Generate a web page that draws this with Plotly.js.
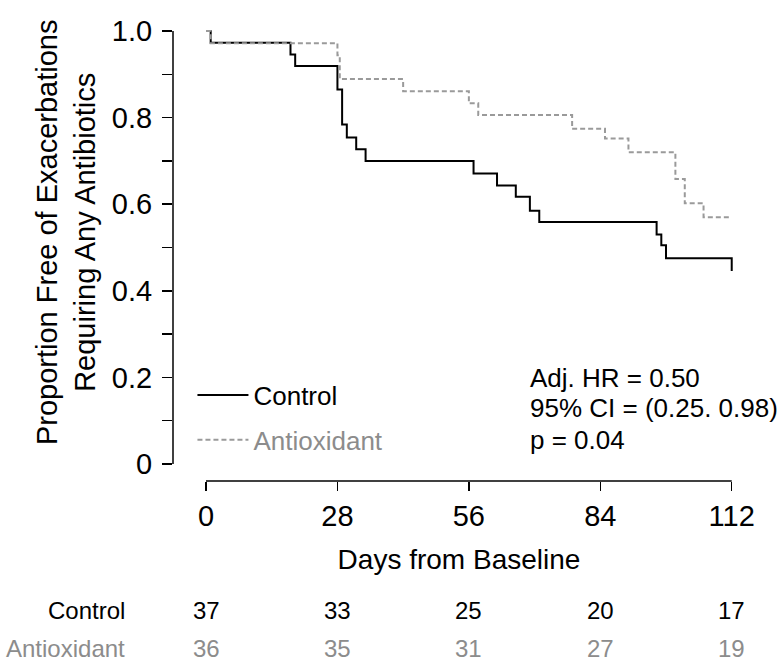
<!DOCTYPE html>
<html>
<head>
<meta charset="utf-8">
<script src="https://cdn.plot.ly/plotly-3.0.1.min.js"></script>
<style>
  html, body { margin: 0; padding: 0; background: #ffffff; }
  #km { width: 780px; height: 664px; }
</style>
</head>
<body>
<div id="km"></div>
<script>
/* ==========================================
   DATA
========================================== */

const controlDays = [0, 1, 18, 19, 28, 29, 30, 32, 34, 57, 62, 66, 69, 71, 96, 97, 98, 112];
const controlSurv = [1.0, 0.973, 0.946, 0.919, 0.865, 0.784, 0.754, 0.727, 0.700, 0.671, 0.643, 0.617, 0.585, 0.559, 0.530, 0.505, 0.475, 0.446];

const antioxDays = [0, 1, 28, 28.5, 42, 56, 58, 78, 85, 90, 100, 102, 106, 112];
const antioxSurv = [1.0, 0.972, 0.944, 0.889, 0.861, 0.833, 0.806, 0.774, 0.752, 0.720, 0.658, 0.602, 0.570, 0.570];

const dayTicks = [0, 28, 56, 84, 112];
const propTicks = [0, 0.1, 0.2, 0.3, 0.4, 0.5, 0.6, 0.7, 0.8, 0.9, 1.0];
const propTickText = ["0", "", "0.2", "", "0.4", "", "0.6", "", "0.8", "", "1.0"];

const riskGroups = ["Control", "Antioxidant"];
const controlAtRisk = [37, 33, 25, 20, 17];
const antioxAtRisk = [36, 35, 31, 27, 19];

const statLines = ["Adj. HR = 0.50", "95% CI = (0.25. 0.98)", "p = 0.04"];


/* ==========================================
   STYLE
========================================== */

const FONT = "Liberation Sans, Arial, Helvetica, sans-serif";
const GREY_LINE = "#9a9a9a";
const GREY_TEXT = "#8c8c8c";


/* ==========================================
   TRACES
========================================== */

const traces = [

    {
        x: controlDays,
        y: controlSurv,
        mode: "lines",
        line: { shape: "hv", color: "#000000", width: 2 },
        name: "Control",
        legendgroup: "c"
    },

    {
        x: antioxDays,
        y: antioxSurv,
        mode: "lines",
        line: { shape: "hv", color: GREY_LINE, width: 2, dash: "5px,3px" },
        name: "<span style='color:" + GREY_TEXT + "'>Antioxidant</span>",
        legendgroup: "a"
    }

];


/* ==========================================
   ANNOTATIONS
========================================== */

let annotations = [];

// y axis title, two lines
annotations.push({
    text: "Proportion Free of Exacerbations<br>Requiring Any Antibiotics",
    xref: "paper", yref: "paper",
    x: -0.187, y: 0.546,
    textangle: -90,
    showarrow: false,
    xanchor: "center", yanchor: "middle",
    font: { family: FONT, size: 29, color: "#000000" }
});

// statistics text
const statY = [0.226, 0.160, 0.091];
statLines.forEach((t, i) => {
    annotations.push({
        text: t,
        xref: "paper", yref: "paper",
        x: 0.621, y: statY[i],
        xanchor: "left", yanchor: "middle",
        showarrow: false,
        font: { family: FONT, size: 26, color: "#000000" }
    });
});

// number at risk table
const rowY = [-0.283, -0.368];
const rowColor = ["#000000", GREY_TEXT];
[controlAtRisk, antioxAtRisk].forEach((row, r) => {

    annotations.push({
        text: riskGroups[r],
        xref: "paper", yref: "paper",
        x: -0.08, y: rowY[r],
        xanchor: "right", yanchor: "middle",
        showarrow: false,
        font: { family: FONT, size: 24, color: rowColor[r] }
    });

    row.forEach((n, i) => {
        annotations.push({
            text: String(n),
            xref: "x", yref: "paper",
            x: dayTicks[i], y: rowY[r],
            xanchor: "center", yanchor: "middle",
            showarrow: false,
            font: { family: FONT, size: 24, color: rowColor[r] }
        });
    });

});


/* ==========================================
   LAYOUT
========================================== */

const layout = {

    width: 780,
    height: 664,
    margin: { l: 173, r: 35, t: 25, b: 183 },
    paper_bgcolor: "#ffffff",
    plot_bgcolor: "#ffffff",
    font: { family: FONT, color: "#000000" },

    xaxis: {
        range: [-7.03, 114.83],
        tickmode: "array",
        tickvals: dayTicks,
        ticks: "outside",
        ticklen: 9,
        tickwidth: 1.5,
        tickcolor: "#000000",
        ticklabelstandoff: 0,
        tickfont: { family: FONT, size: 29, color: "#000000" },
        showline: false,
        showgrid: false,
        zeroline: false,
        title: {
            text: "Days from Baseline",
            font: { family: FONT, size: 28, color: "#000000" },
            standoff: 18
        }
    },

    yaxis: {
        range: [-0.0393, 1.0139],
        tickmode: "array",
        tickvals: propTicks,
        ticktext: propTickText,
        ticks: "outside",
        ticklen: 10,
        tickwidth: 1.5,
        tickcolor: "#000000",
        ticklabelstandoff: 4,
        tickfont: { family: FONT, size: 29, color: "#000000" },
        showline: false,
        showgrid: false,
        zeroline: false
    },

    // R-style axis lines that only span the tick range
    shapes: [
        {
            type: "line", xref: "x", yref: "paper",
            x0: dayTicks[0], x1: dayTicks[dayTicks.length - 1], y0: 0, y1: 0,
            line: { color: "#000000", width: 1.5 }
        },
        {
            type: "line", xref: "paper", yref: "y",
            x0: 0, x1: 0, y0: propTicks[0], y1: propTicks[propTicks.length - 1],
            line: { color: "#000000", width: 1.5 }
        }
    ],

    showlegend: true,
    legend: {
        x: 0.034, y: 0.24,
        xanchor: "left", yanchor: "top",
        bgcolor: "rgba(0,0,0,0)",
        borderwidth: 0,
        traceorder: "grouped",
        tracegroupgap: 8,
        itemwidth: 51,
        font: { family: FONT, size: 26, color: "#000000" }
    },

    annotations: annotations
};


Plotly.newPlot("km", traces, layout, { displayModeBar: false, staticPlot: true });
</script>
</body>
</html>
